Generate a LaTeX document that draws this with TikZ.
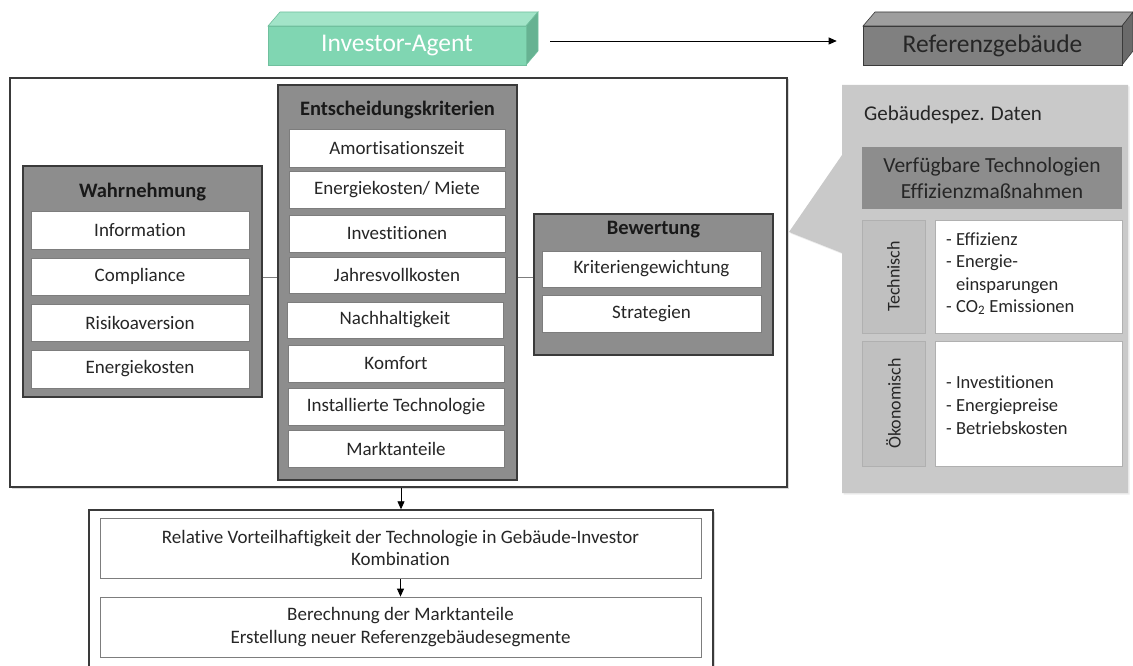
\documentclass[tikz,border=0pt]{standalone}
\usepackage{fontspec}
\setmainfont{Carlito}[Ligatures=NoCommon]
\usetikzlibrary{arrows.meta,shadows}
\definecolor{boxgray}{RGB}{141,141,141}
\definecolor{boxline}{RGB}{58,58,58}
\definecolor{wline}{RGB}{125,125,125}
\definecolor{panel}{RGB}{201,201,201}
\definecolor{panelhead}{RGB}{141,141,141}
\definecolor{labcell}{RGB}{192,192,192}
\definecolor{labline}{RGB}{176,176,176}
\definecolor{invfront}{RGB}{128,214,178}
\definecolor{invtop}{RGB}{162,228,200}
\definecolor{invside}{RGB}{102,178,146}
\definecolor{invline}{RGB}{112,192,158}
\definecolor{reffront}{RGB}{128,128,128}
\definecolor{reftop}{RGB}{158,158,158}
\definecolor{refside}{RGB}{106,106,106}
\definecolor{txt}{RGB}{38,38,38}
\tikzset{
  grayframe/.style={draw=boxline, fill=boxgray, line width=1.2pt, inner sep=0pt},
  wbox/.style={draw=wline, fill=white, line width=0.8pt, inner sep=0pt,
    text=txt, font=\fontsize{19}{22}\selectfont,
    drop shadow={shadow xshift=1pt, shadow yshift=-1pt, opacity=0.25}},
  titletext/.style={font=\bfseries\fontsize{20.5}{24}\selectfont, text=black!90},
  conn/.style={draw=wline, line width=0.8pt},
  arr/.style={draw=black, line width=0.8pt, -{Triangle[length=8pt,width=7pt]}},
  bwbox/.style={draw=wline, fill=white, line width=0.8pt, inner sep=0pt,
    text=txt, align=center, font=\fontsize{19}{22.5}\selectfont},
}
\begin{document}
\begin{tikzpicture}[x=1pt,y=-1pt]
\useasboundingbox (0,0) rectangle (1133,666);
\clip (0,0) rectangle (1133,666);

% ---------- top 3D boxes ----------
\fill[invtop, draw=invline, line width=0.6pt] (268,26) -- (280,12) -- (538,12) -- (526,26) -- cycle;
\fill[invside, draw=invline, line width=0.6pt] (526,26) -- (538,12) -- (538,51) -- (526,65) -- cycle;
\node[fill=invfront, draw=invline, line width=0.6pt, minimum width=258pt, minimum height=39pt, inner sep=0pt,
  text=white, font=\fontsize{25.5}{28}\selectfont] (inv) at (397,45.5) {Investor-Agent};

\fill[reftop, draw=boxline, line width=0.6pt] (863,26) -- (875,12) -- (1133,12) -- (1122,26) -- cycle;
\fill[refside, draw=boxline, line width=0.6pt] (1122,26) -- (1133,12) -- (1133,51) -- (1122,65) -- cycle;
\node[fill=reffront, draw=boxline, line width=0.6pt, minimum width=259pt, minimum height=39pt, inner sep=0pt,
  text=txt, font=\fontsize{25.5}{28}\selectfont] (ref) at (992.5,45.5) {Referenzgebäude};

\draw[arr, shorten <=24pt, shorten >=26pt] ([yshift=4.5pt]inv.east) -- ([yshift=4.5pt]ref.west);

% ---------- main frame ----------
\node[draw=boxline, fill=white, line width=1.4pt, minimum width=777pt, minimum height=409pt, inner sep=0pt,
  drop shadow={shadow xshift=1.5pt, shadow yshift=-1.5pt, opacity=0.3}] (frame) at (398.5,282.5) {};

% ---------- Wahrnehmung ----------
\node[grayframe, minimum width=239pt, minimum height=231pt] (wahr) at (142.5,281.5) {};
\node[titletext] (wahrT) at (142.5,192) {Wahrnehmung};
\node[wbox, minimum width=218pt, minimum height=38pt] (info) at (140,230) {Information};
\node[wbox, minimum width=218pt, minimum height=37pt] (compl) at (140,276.5) {Compliance};
\node[wbox, minimum width=218pt, minimum height=37pt] (risk) at (140,322.5) {Risikoaversion};
\node[wbox, minimum width=218pt, minimum height=38pt] (ekost) at (140,369) {Energiekosten};

% ---------- Entscheidungskriterien ----------
\node[grayframe, minimum width=239pt, minimum height=395pt] (ent) at (397.5,282.5) {};
\node[titletext] (entT) at (397.5,110) {Entscheidungskriterien};
\node[wbox, minimum width=216pt, minimum height=38pt] (amort) at (397,148) {Amortisationszeit};
\node[wbox, minimum width=216pt, minimum height=37pt] (miete) at (397,189.5) {Energiekosten/ Miete};
\node[wbox, minimum width=216pt, minimum height=37pt] (inves) at (397,233.5) {Investitionen};
\node[wbox, minimum width=216pt, minimum height=36pt] (jvk) at (397,275) {Jahresvollkosten};
\node[wbox, minimum width=216pt, minimum height=36pt] (nach) at (395,320) {Nachhaltigkeit};
\node[wbox, minimum width=216pt, minimum height=37pt] (komf) at (396,363.5) {Komfort};
\node[wbox, minimum width=216pt, minimum height=37pt] (inst) at (396,406.5) {Installierte Technologie};
\node[wbox, minimum width=216pt, minimum height=37pt] (markt) at (396,448.5) {Marktanteile};

% ---------- Bewertung ----------
\node[grayframe, minimum width=239pt, minimum height=141pt] (bew) at (653.5,284.5) {};
\node[titletext] (bewT) at (653.5,230) {Bewertung};
\node[wbox, minimum width=219pt, minimum height=36pt] (krit) at (651.5,269) {Kriteriengewichtung};
\node[wbox, minimum width=219pt, minimum height=37pt] (strat) at (651.5,313.5) {Strategien};

\coordinate (lvl) at (0,277);
\draw[conn] (wahr.east |- lvl) -- (ent.west |- lvl);
\draw[conn] (ent.east |- lvl) -- (bew.west |- lvl);

% ---------- right panel ----------
\fill[panel, drop shadow={shadow xshift=1.5pt, shadow yshift=-1.5pt, opacity=0.15}]
  (842,85) -- (1128,85) -- (1128,493) -- (842,493) -- (842,253) -- (789,232) -- (842,155) -- cycle;
\node[anchor=west, text=txt, font=\fontsize{21}{24}\selectfont, inner sep=0pt] (geb) at (864,115) {Gebäudespez. Daten};
\node[fill=panelhead, minimum width=260pt, minimum height=61pt, inner sep=0pt, align=center,
  text=txt, font=\fontsize{21.5}{26}\selectfont] (head) at (992,178) {Verfügbare Technologien\\Effizienzmaßnahmen};

\node[fill=labcell, draw=labline, line width=0.8pt, minimum width=63pt, minimum height=113pt, inner sep=0pt] (tlab) at (893.5,276.5) {};
\node[rotate=90, text=txt, font=\fontsize{18}{21}\selectfont] (tlabT) at (tlab.center) {Technisch};
\node[fill=white, draw=labline, line width=0.8pt, minimum width=187pt, minimum height=113pt, inner sep=0pt] (tcont) at (1028.5,276.5) {};
\node[anchor=north west, align=left, text=txt, font=\fontsize{18.5}{22.3}\selectfont, inner sep=0pt] (tcontT) at (946,232.5)
  {- Effizienz\\- Energie-\\\hphantom{- }einsparungen\\- CO\textsubscript{2} Emissionen};

\node[fill=labcell, draw=labline, line width=0.8pt, minimum width=63pt, minimum height=125pt, inner sep=0pt] (olab) at (893.5,403.5) {};
\node[rotate=90, text=txt, font=\fontsize{18}{21}\selectfont] (olabT) at (olab.center) {Ökonomisch};
\node[fill=white, draw=labline, line width=0.8pt, minimum width=187pt, minimum height=125pt, inner sep=0pt] (ocont) at (1028.5,403.5) {};
\node[anchor=west, align=left, text=txt, font=\fontsize{18.5}{23}\selectfont, inner sep=0pt] (ocontT) at (946,405)
  {- Investitionen\\- Energiepreise\\- Betriebskosten};

% ---------- bottom ----------
\node[draw=boxline, fill=white, line width=1.4pt, minimum width=624pt, minimum height=190pt, inner sep=0pt,
  drop shadow={shadow xshift=1.5pt, shadow yshift=-1.5pt, opacity=0.3}] (outer) at (401,605) {};
\node[bwbox, minimum width=601pt, minimum height=60pt] (rel) at (400.5,548) {Relative Vorteilhaftigkeit der Technologie in Gebäude-Investor\\Kombination};
\node[bwbox, minimum width=601pt, minimum height=60pt] (ber) at (400.5,627) {Berechnung der Marktanteile\\Erstellung neuer Referenzgebäudesegmente};

\draw[arr] (outer.north |- frame.south) -- (outer.north);
\draw[arr, shorten <=1pt] (rel.south) -- (ber.north);
\end{tikzpicture}
\end{document}
